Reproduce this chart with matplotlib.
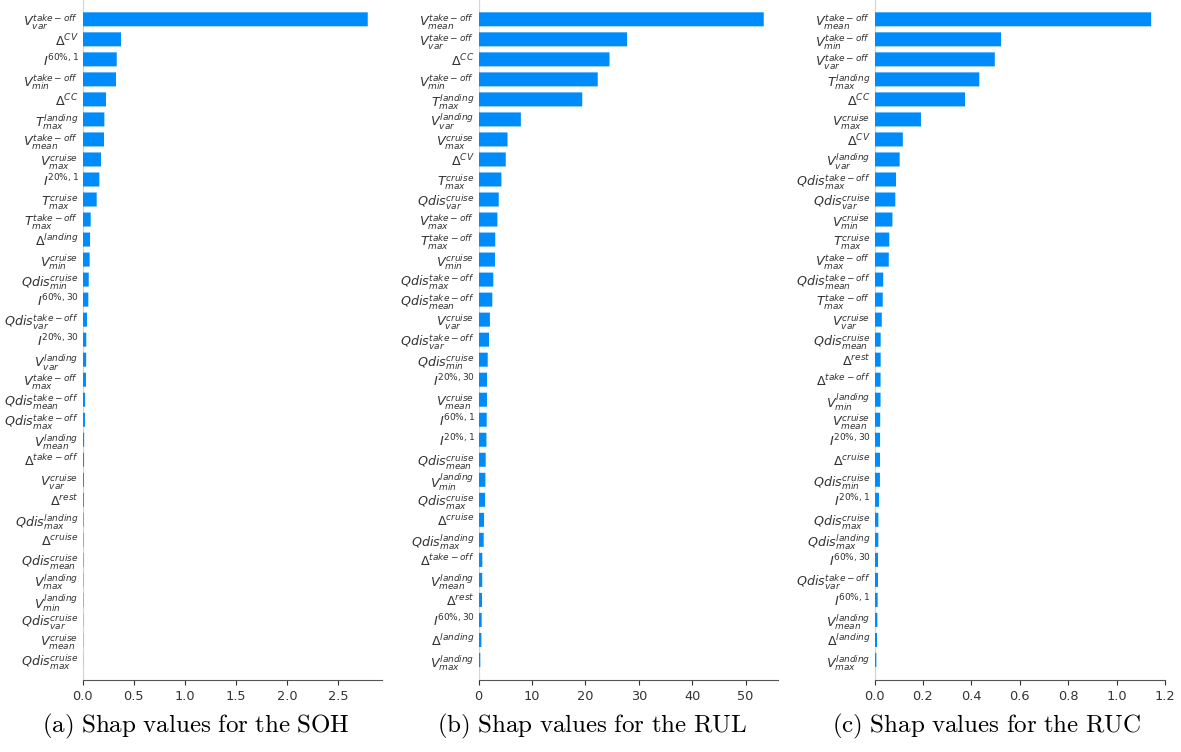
import matplotlib
matplotlib.use("Agg")
import matplotlib.pyplot as plt

plt.rcParams["mathtext.fontset"] = "dejavusans"

BAR_COLOR = "#008bfb"
AXIS_COLOR = "#333333"

# ---- SOH ----
soh_features = [
    r"$V_{var}^{take-off}$", r"$\Delta^{CV}$", r"$I^{60\%,1}$", r"$V_{min}^{take-off}$",
    r"$\Delta^{CC}$", r"$T_{max}^{landing}$", r"$V_{mean}^{take-off}$", r"$V_{max}^{cruise}$",
    r"$I^{20\%,1}$", r"$T_{max}^{cruise}$", r"$T_{max}^{take-off}$", r"$\Delta^{landing}$",
    r"$V_{min}^{cruise}$", r"$Qdis_{min}^{cruise}$", r"$I^{60\%,30}$", r"$Qdis_{var}^{take-off}$",
    r"$I^{20\%,30}$", r"$V_{var}^{landing}$", r"$V_{max}^{take-off}$", r"$Qdis_{mean}^{take-off}$",
    r"$Qdis_{max}^{take-off}$", r"$V_{mean}^{landing}$", r"$\Delta^{take-off}$", r"$V_{var}^{cruise}$",
    r"$\Delta^{rest}$", r"$Qdis_{max}^{landing}$", r"$\Delta^{cruise}$", r"$Qdis_{mean}^{cruise}$",
    r"$V_{max}^{landing}$", r"$V_{min}^{landing}$", r"$Qdis_{var}^{cruise}$", r"$V_{mean}^{cruise}$",
    r"$Qdis_{max}^{cruise}$",
]
soh_values = [
    2.79, 0.375, 0.333, 0.326, 0.228, 0.212, 0.209, 0.179, 0.163, 0.137, 0.078, 0.072,
    0.068, 0.059, 0.055, 0.042, 0.035, 0.034, 0.032, 0.023, 0.022, 0.014, 0.013, 0.012,
    0.011, 0.008, 0.007, 0.007, 0.006, 0.006, 0.005, 0.005, 0.004,
]

# ---- RUL ----
rul_features = [
    r"$V_{mean}^{take-off}$", r"$V_{var}^{take-off}$", r"$\Delta^{CC}$", r"$V_{min}^{take-off}$",
    r"$T_{max}^{landing}$", r"$V_{var}^{landing}$", r"$V_{max}^{cruise}$", r"$\Delta^{CV}$",
    r"$T_{max}^{cruise}$", r"$Qdis_{var}^{cruise}$", r"$V_{max}^{take-off}$", r"$T_{max}^{take-off}$",
    r"$V_{min}^{cruise}$", r"$Qdis_{max}^{take-off}$", r"$Qdis_{mean}^{take-off}$", r"$V_{var}^{cruise}$",
    r"$Qdis_{var}^{take-off}$", r"$Qdis_{min}^{cruise}$", r"$I^{20\%,30}$", r"$V_{mean}^{cruise}$",
    r"$I^{60\%,1}$", r"$I^{20\%,1}$", r"$Qdis_{mean}^{cruise}$", r"$V_{min}^{landing}$",
    r"$Qdis_{max}^{cruise}$", r"$\Delta^{cruise}$", r"$Qdis_{max}^{landing}$", r"$\Delta^{take-off}$",
    r"$V_{mean}^{landing}$", r"$\Delta^{rest}$", r"$I^{60\%,30}$", r"$\Delta^{landing}$",
    r"$V_{max}^{landing}$",
]
rul_values = [
    53.4, 27.8, 24.5, 22.3, 19.4, 7.9, 5.4, 5.07, 4.25, 3.75, 3.5, 3.1,
    3.05, 2.74, 2.55, 2.1, 1.93, 1.69, 1.56, 1.55, 1.5, 1.45, 1.31, 1.25,
    1.2, 1.0, 0.94, 0.68, 0.66, 0.62, 0.56, 0.5, 0.3,
]

# ---- RUC ----
ruc_features = [
    r"$V_{mean}^{take-off}$", r"$V_{min}^{take-off}$", r"$V_{var}^{take-off}$", r"$T_{max}^{landing}$",
    r"$\Delta^{CC}$", r"$V_{max}^{cruise}$", r"$\Delta^{CV}$", r"$V_{var}^{landing}$",
    r"$Qdis_{max}^{take-off}$", r"$Qdis_{var}^{cruise}$", r"$V_{min}^{cruise}$", r"$T_{max}^{cruise}$",
    r"$V_{max}^{take-off}$", r"$Qdis_{mean}^{take-off}$", r"$T_{max}^{take-off}$", r"$V_{var}^{cruise}$",
    r"$Qdis_{mean}^{cruise}$", r"$\Delta^{rest}$", r"$\Delta^{take-off}$", r"$V_{min}^{landing}$",
    r"$V_{mean}^{cruise}$", r"$I^{20\%,30}$", r"$\Delta^{cruise}$", r"$Qdis_{min}^{cruise}$",
    r"$I^{20\%,1}$", r"$Qdis_{max}^{cruise}$", r"$Qdis_{max}^{landing}$", r"$I^{60\%,30}$",
    r"$Qdis_{var}^{take-off}$", r"$I^{60\%,1}$", r"$V_{mean}^{landing}$", r"$\Delta^{landing}$",
    r"$V_{max}^{landing}$",
]
ruc_values = [
    1.143, 0.523, 0.497, 0.433, 0.374, 0.192, 0.117, 0.104, 0.089, 0.086, 0.074, 0.061,
    0.059, 0.036, 0.034, 0.030, 0.0255, 0.0255, 0.025, 0.025, 0.0235, 0.023, 0.0227, 0.0225,
    0.0186, 0.016, 0.0159, 0.0145, 0.0145, 0.0131, 0.0117, 0.0103, 0.0076,
]

captions = [
    r"$\mathrm{(a)\ Shap\ values\ for\ the\ SOH}$",
    r"$\mathrm{(b)\ Shap\ values\ for\ the\ RUL}$",
    r"$\mathrm{(c)\ Shap\ values\ for\ the\ RUC}$",
]

W, H = 1181, 752
fig = plt.figure(figsize=(W / 100, H / 100), dpi=100)

# axes boxes in pixels: (left, right)
boxes = [(82.7, 382.0), (478.7, 778.0), (874.5, 1165.0)]
ax_bottom_px, ax_top_px = 680.0, -0.7
caption_x = [196, 592, 987]

panels = [
    (soh_features, soh_values, [0.0, 0.5, 1.0, 1.5, 2.0, 2.5], "{:.1f}"),
    (rul_features, rul_values, [0, 10, 20, 30, 40, 50], "{:d}"),
    (ruc_features, ruc_values, [0.0, 0.2, 0.4, 0.6, 0.8, 1.0, 1.2], "{:.1f}"),
]

for (feats, vals, ticks, fmt), (l, r), cx, cap in zip(panels, boxes, caption_x, captions):
    ax = fig.add_axes([l / W, 1 - ax_bottom_px / H, (r - l) / W, (ax_bottom_px - ax_top_px) / H])
    n = len(feats)
    ypos = list(range(n))
    ax.axvline(0, color="#d4d4d4", lw=1.6, zorder=-1)
    ax.barh(ypos, vals[::-1], 0.7, align="center", color=BAR_COLOR, zorder=2, snap=False)
    ax.set_yticks(ypos)
    ax.set_yticklabels(feats[::-1], fontsize=9.2, color=AXIS_COLOR)
    ax.set_ylim(-1, n)
    ax.set_xlim(0, max(vals) * 1.05)
    ax.set_xticks(ticks)
    ax.set_xticklabels([fmt.format(t) for t in ticks])
    ax.tick_params(axis="x", labelsize=9.3, color=AXIS_COLOR, labelcolor=AXIS_COLOR)
    ax.tick_params(axis="y", length=0, pad=3)
    for s in ("top", "right", "left"):
        ax.spines[s].set_visible(False)
    ax.spines["bottom"].set_color("#555555")
    fig.text(cx / W, 1 - 726 / H, cap, math_fontfamily="cm", fontsize=18,
             ha="center", va="center", color="black")

fig.savefig("out.png", dpi=100)
